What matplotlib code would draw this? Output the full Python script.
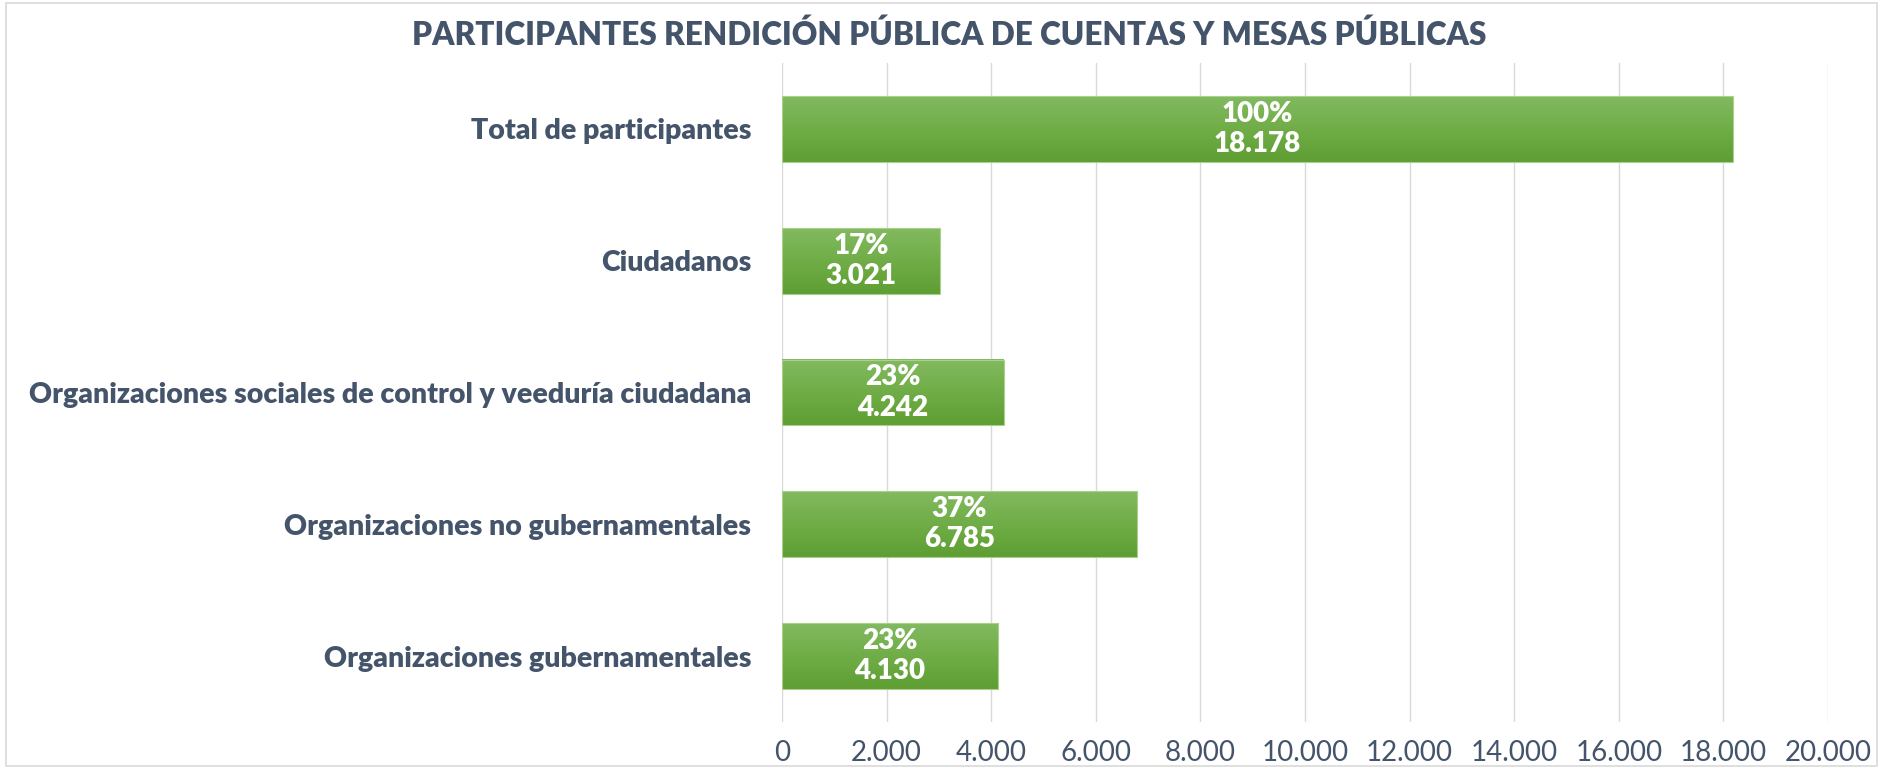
import numpy as np
import matplotlib.pyplot as plt
from matplotlib.patches import Rectangle
from matplotlib.colors import LinearSegmentedColormap

# Data (top to bottom as shown)
CATS = ['Total de participantes', 'Ciudadanos',
        'Organizaciones sociales de control y veeduría ciudadana',
        'Organizaciones no gubernamentales', 'Organizaciones gubernamentales']
VALS = [18178, 3021, 4242, 6785, 4130]
PCTS = ['100%', '17%', '23%', '37%', '23%']
XTICKS = [0, 2000, 4000, 6000, 8000, 10000, 12000, 14000, 16000, 18000, 20000]

TXT = '#44546A'
plt.rcParams['font.family'] = ['Lato', 'DejaVu Sans']

fig = plt.figure(figsize=(18.83, 7.68), dpi=100)
ax = fig.add_axes([0.4153, 0.060, 0.9708 - 0.4153, 0.858])

ypos = np.arange(len(CATS))[::-1]
BH = 0.5
grad = np.linspace(0, 1, 256).reshape(-1, 1)
cmap = LinearSegmentedColormap.from_list('g', ['#5E9E32', '#70AD47', '#82BA60'])

for y, v, p in zip(ypos, VALS, PCTS):
    ax.imshow(grad, extent=(0, v, y - BH / 2, y + BH / 2), origin='lower',
              cmap=cmap, aspect='auto', zorder=2)
    ax.add_patch(Rectangle((0, y - BH / 2), v, BH, fill=False,
                           edgecolor='#A9D18E', lw=0.8, zorder=3))
    ax.text(v / 2, y, f"{p}\n{v:,}".replace(',', '.'), ha='center', va='center',
            color='white', fontsize=20, fontweight='heavy', linespacing=1.2, zorder=4)

ax.set_xlim(0, 20000)
ax.set_ylim(-0.5, len(CATS) - 0.5)
ax.set_yticks(ypos)
ax.set_yticklabels(CATS, fontsize=20.5, fontweight='heavy', color=TXT)
ax.set_xticks(XTICKS)
ax.set_xticklabels([f"{t:,}".replace(',', '.') for t in XTICKS], fontsize=20, color=TXT)
ax.tick_params(length=0, pad=22, axis='y')
ax.tick_params(length=0, pad=13, axis='x')
ax.grid(axis='x', color='#D9D9D9', lw=1, zorder=0)
ax.set_axisbelow(True)
for s in ax.spines.values():
    s.set_visible(False)

fig.text(0.504, 0.955, 'PARTICIPANTES RENDICIÓN PÚBLICA DE CUENTAS Y MESAS PÚBLICAS',
         ha='center', va='center', fontsize=22.7, fontweight='heavy', color=TXT)

fig.add_artist(Rectangle((0.003, 0.003), 0.994, 0.993, transform=fig.transFigure,
                         fill=False, edgecolor='#D9D9D9', lw=1.2))

fig.savefig('out.png', dpi=100)
